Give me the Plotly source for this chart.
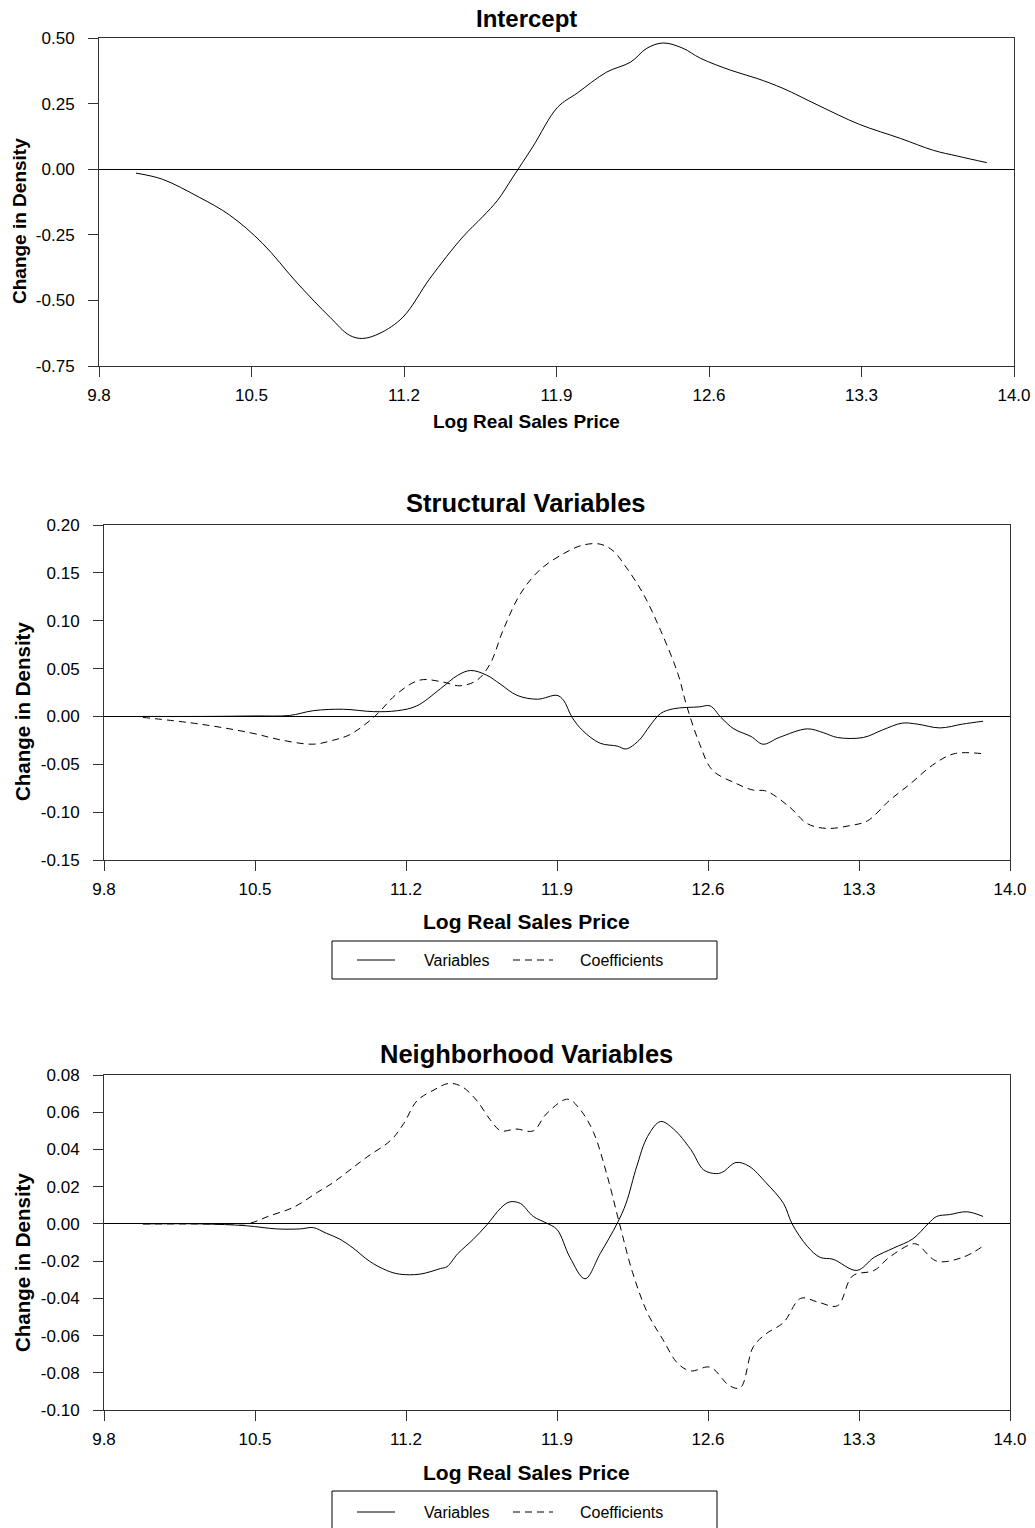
import plotly.graph_objects as go

W, H = 1035, 1528

# ---------------- data ----------------
x_ticks = [9.8, 10.5, 11.2, 11.9, 12.6, 13.3, 14.0]
x_ticktext = ["9.8", "10.5", "11.2", "11.9", "12.6", "13.3", "14.0"]

# Panel 1: Intercept
int_x = [9.97, 10.09, 10.26, 10.40, 10.55, 10.71, 10.86, 10.95, 11.01, 11.09, 11.195, 11.32,
         11.47, 11.56, 11.63, 11.70, 11.79, 11.905, 11.995, 12.13, 12.24, 12.315, 12.39,
         12.48, 12.56, 12.70, 12.82, 12.94, 13.10, 13.29, 13.48, 13.63, 13.74, 13.875]
int_y = [-0.015, -0.038, -0.107, -0.175, -0.282, -0.434, -0.564, -0.633, -0.645, -0.625, -0.564, -0.415,
         -0.258, -0.182, -0.118, -0.030, 0.084, 0.236, 0.290, 0.370, 0.408, 0.461, 0.481,
         0.461, 0.423, 0.377, 0.346, 0.308, 0.244, 0.171, 0.117, 0.072, 0.050, 0.025]

# Panel 2: Structural Variables
str_var_x = [9.98, 10.25, 10.50, 10.66, 10.77, 10.91, 11.05, 11.16, 11.25, 11.36, 11.44, 11.50,
             11.575, 11.636, 11.715, 11.81, 11.90, 11.93, 11.97, 12.02, 12.10, 12.18, 12.22, 12.28,
             12.33, 12.38, 12.44, 12.56, 12.61, 12.66, 12.72, 12.80, 12.855, 12.93, 13.06, 13.135,
             13.20, 13.32, 13.41, 13.50, 13.57, 13.675, 13.78, 13.875]
str_var_y = [0.0, 0.0, 0.0005, 0.001, 0.006, 0.0075, 0.005, 0.006, 0.011, 0.029, 0.043, 0.048,
             0.043, 0.034, 0.022, 0.018, 0.022, 0.017, -0.001, -0.015, -0.028, -0.031, -0.034, -0.025,
             -0.010, 0.003, 0.008, 0.010, 0.011, -0.001, -0.013, -0.021, -0.029, -0.022, -0.013, -0.017,
             -0.022, -0.022, -0.014, -0.007, -0.008, -0.012, -0.008, -0.005]

str_coef_x = [9.98, 10.245, 10.477, 10.63, 10.77, 10.86, 10.94, 11.05, 11.16, 11.265, 11.37, 11.45,
              11.53, 11.59, 11.65, 11.73, 11.82, 11.93, 12.02, 12.10, 12.16, 12.22, 12.30, 12.38,
              12.46, 12.50, 12.56, 12.62, 12.73, 12.81, 12.87, 12.98, 13.06, 13.15, 13.26, 13.34,
              13.44, 13.54, 13.64, 13.74, 13.875]
str_coef_y = [-0.001, -0.008, -0.017, -0.025, -0.029, -0.025, -0.019, -0.001, 0.024, 0.038, 0.036, 0.032,
              0.038, 0.055, 0.090, 0.128, 0.153, 0.170, 0.179, 0.180, 0.173, 0.156, 0.128, 0.090,
              0.045, 0.012, -0.028, -0.056, -0.070, -0.077, -0.078, -0.095, -0.112, -0.117, -0.114, -0.109,
              -0.088, -0.070, -0.051, -0.039, -0.039]

# Panel 3: Neighborhood Variables
nb_var_x = [9.98, 10.25, 10.46, 10.60, 10.71, 10.77, 10.83, 10.89, 10.955, 11.03, 11.11, 11.17,
            11.265, 11.36, 11.39, 11.44, 11.51, 11.575, 11.64, 11.68, 11.73, 11.79, 11.85, 11.90,
            11.96, 12.03, 12.10, 12.18, 12.22, 12.27, 12.32, 12.38, 12.44, 12.52, 12.58, 12.64,
            12.67, 12.73, 12.79, 12.87, 12.95, 12.99, 13.06, 13.12, 13.18, 13.29, 13.37, 13.46,
            13.55, 13.62, 13.66, 13.72, 13.80, 13.875]
nb_var_y = [0.0, 0.0, -0.001, -0.0027, -0.0027, -0.002, -0.005, -0.008, -0.013, -0.020, -0.025, -0.027,
            -0.027, -0.024, -0.023, -0.016, -0.0085, -0.0005, 0.0086, 0.0118, 0.011, 0.004, 0.0005, -0.003,
            -0.018, -0.0295, -0.016, 0.0005, 0.011, 0.031, 0.047, 0.055, 0.051, 0.040, 0.029, 0.027,
            0.028, 0.033, 0.031, 0.022, 0.011, 0.0, -0.012, -0.018, -0.019, -0.025, -0.018, -0.013,
            -0.008, 0.0, 0.004, 0.005, 0.0065, 0.004]

nb_coef_x = [9.98, 10.20, 10.40, 10.48, 10.56, 10.68, 10.79, 10.86, 10.94, 11.02, 11.13, 11.19,
             11.25, 11.33, 11.40, 11.46, 11.53, 11.59, 11.64, 11.71, 11.79, 11.85, 11.95, 12.01,
             12.07, 12.13, 12.19, 12.25, 12.32, 12.39, 12.46, 12.52, 12.61, 12.70, 12.75, 12.81,
             12.87, 12.95, 13.03, 13.11, 13.20, 13.27, 13.37, 13.44, 13.54, 13.57, 13.66, 13.78, 13.875]
nb_coef_y = [0.0, 0.0, 0.0, 0.0005, 0.004, 0.009, 0.017, 0.022, 0.029, 0.036, 0.045, 0.054,
             0.066, 0.072, 0.0755, 0.0737, 0.066, 0.056, 0.050, 0.051, 0.050, 0.059, 0.067, 0.061,
             0.049, 0.027, 0.0, -0.026, -0.048, -0.062, -0.075, -0.079, -0.077, -0.087, -0.088, -0.066,
             -0.059, -0.053, -0.040, -0.042, -0.044, -0.028, -0.025, -0.018, -0.011, -0.011, -0.020, -0.018, -0.012]

# y tick values and labels (hyphen-minus as in the original)
y1_ticks = [-0.75, -0.50, -0.25, 0.00, 0.25, 0.50]
y1_text = ["-0.75", "-0.50", "-0.25", "0.00", "0.25", "0.50"]
y2_ticks = [-0.15, -0.10, -0.05, 0.00, 0.05, 0.10, 0.15, 0.20]
y2_text = ["-0.15", "-0.10", "-0.05", "0.00", "0.05", "0.10", "0.15", "0.20"]
y3_ticks = [-0.10, -0.08, -0.06, -0.04, -0.02, 0.00, 0.02, 0.04, 0.06, 0.08]
y3_text = ["-0.10", "-0.08", "-0.06", "-0.04", "-0.02", "0.00", "0.02", "0.04", "0.06", "0.08"]

titles = ["Intercept", "Structural Variables", "Neighborhood Variables"]
x_title = "Log Real Sales Price"
y_title = "Change in Density"
legend_names = ["Variables", "Coefficients"]

# ---------------- layout helpers ----------------
FONT = "Liberation Sans, Arial, Helvetica, sans-serif"


def px(xp):
    return xp / W


def py(yp):
    return 1 - yp / H


fig = go.Figure()

solid = dict(color="black", width=1)
dashed = dict(color="black", width=1, dash="7px,5px")

fig.add_trace(go.Scatter(x=int_x, y=int_y, mode="lines", line=solid, line_shape="spline",
                         showlegend=False, xaxis="x", yaxis="y"))
fig.add_trace(go.Scatter(x=str_var_x, y=str_var_y, mode="lines", line=solid, line_shape="spline",
                         name=legend_names[0], showlegend=False, xaxis="x2", yaxis="y2"))
fig.add_trace(go.Scatter(x=str_coef_x, y=str_coef_y, mode="lines", line=dashed, line_shape="spline",
                         name=legend_names[1], showlegend=False, xaxis="x2", yaxis="y2"))
fig.add_trace(go.Scatter(x=nb_var_x, y=nb_var_y, mode="lines", line=solid, line_shape="spline",
                         name=legend_names[0], showlegend=False, xaxis="x3", yaxis="y3"))
fig.add_trace(go.Scatter(x=nb_coef_x, y=nb_coef_y, mode="lines", line=dashed, line_shape="spline",
                         name=legend_names[1], showlegend=False, xaxis="x3", yaxis="y3"))

# panel geometry in pixels: (left, right, top, bottom)
panels = [(99, 1014, 38, 366), (104, 1010, 525, 860), (104, 1010, 1075, 1410)]
yranges = [[-0.75, 0.5], [-0.15, 0.2], [-0.10, 0.08]]
yticks = [(y1_ticks, y1_text), (y2_ticks, y2_text), (y3_ticks, y3_text)]

layout = dict(template="none", width=W, height=H, margin=dict(l=0, r=0, t=0, b=0, pad=0),
              autosize=False, paper_bgcolor="white", plot_bgcolor="white",
              font=dict(family=FONT, color="black"), showlegend=False)

for i, (l, r, t, b) in enumerate(panels):
    sx = "" if i == 0 else str(i + 1)
    layout["xaxis" + sx] = dict(
        domain=[px(l), px(r)], range=[9.8, 14.0], anchor="y" + sx, automargin=False,
        tickmode="array", tickvals=x_ticks, ticktext=x_ticktext, ticks="outside", ticklen=10,
        tickwidth=1, tickcolor="#333", showline=True, linecolor="#333", linewidth=1, mirror=True,
        showgrid=False, zeroline=False, tickfont=dict(size=17, family=FONT, color="black"),
        ticklabelstandoff=4, fixedrange=True)
    layout["yaxis" + sx] = dict(
        domain=[py(b), py(t)], range=yranges[i], anchor="x" + sx, automargin=False,
        tickmode="array", tickvals=yticks[i][0], ticktext=yticks[i][1], ticks="outside", ticklen=10,
        tickwidth=1, tickcolor="#333", showline=True, linecolor="#333", linewidth=1, mirror=True,
        showgrid=False, zeroline=True, zerolinecolor="black", zerolinewidth=1,
        tickfont=dict(size=17, family=FONT, color="black"), ticklabelstandoff=10, fixedrange=True)

fig.update_layout(**layout)

# titles and axis titles
title_y = [18, 503, 1054]
title_size = [24, 25.5, 25.5]
xtitle_y = [421, 922, 1472]
xtitle_size = [19, 21, 21]
ytitle_y = [221, 712, 1263]
ytitle_size = [19, 20.5, 20.5]
ytitle_x = [20, 22, 22]

ann = []
for i in range(3):
    ann.append(dict(text="<b>%s</b>" % titles[i], x=px(526), y=py(title_y[i]), xref="paper", yref="paper",
                    xanchor="center", yanchor="middle", showarrow=False,
                    font=dict(size=title_size[i], family=FONT, color="black")))
    ann.append(dict(text="<b>%s</b>" % x_title, x=px(526), y=py(xtitle_y[i]), xref="paper", yref="paper",
                    xanchor="center", yanchor="middle", showarrow=False,
                    font=dict(size=xtitle_size[i], family=FONT, color="black")))
    ann.append(dict(text="<b>%s</b>" % y_title, x=px(ytitle_x[i]), y=py(ytitle_y[i]), xref="paper",
                    yref="paper", xanchor="center", yanchor="middle", showarrow=False, textangle=-90,
                    font=dict(size=ytitle_size[i], family=FONT, color="black")))

# legends (boxes under panels 2 and 3)
shapes = []
for top, mid in [(941, 960), (1491, 1512)]:
    shapes.append(dict(type="rect", xref="paper", yref="paper", x0=px(332), x1=px(717),
                       y0=py(top + 38), y1=py(top), line=dict(color="black", width=1),
                       fillcolor="white", layer="above"))
    shapes.append(dict(type="line", xref="paper", yref="paper", x0=px(357), x1=px(395),
                       y0=py(mid), y1=py(mid), line=dict(color="black", width=1)))
    shapes.append(dict(type="line", xref="paper", yref="paper", x0=px(513), x1=px(553),
                       y0=py(mid), y1=py(mid), line=dict(color="black", width=1, dash="7px,5px")))
    ann.append(dict(text=legend_names[0], x=px(422), y=py(mid), xref="paper", yref="paper",
                    xanchor="left", yanchor="middle", showarrow=False,
                    font=dict(size=16, family=FONT, color="black")))
    ann.append(dict(text=legend_names[1], x=px(578), y=py(mid), xref="paper", yref="paper",
                    xanchor="left", yanchor="middle", showarrow=False,
                    font=dict(size=16, family=FONT, color="black")))

fig.update_layout(annotations=ann, shapes=shapes)

fig.write_html(
    "out.html",
    config={"displayModeBar": False, "responsive": False},
    post_script=("document.documentElement.style.margin='0';document.body.style.margin='0';"
                 "document.documentElement.style.overflow='hidden';document.body.style.overflow='hidden';"),
)
